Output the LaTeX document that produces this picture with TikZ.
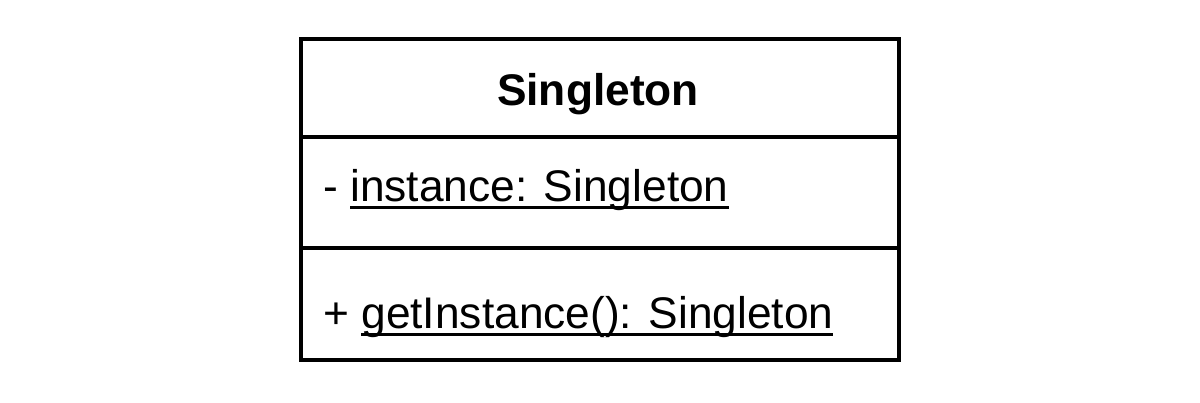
\documentclass[tikz,border=0pt]{standalone}
\usepackage{fontspec}
\setmainfont{Liberation Sans}
\newcommand{\myul}[1]{\setbox0\hbox{#1}\rlap{\rule[-7.8pt]{\wd0}{2.8pt}}\box0}
\begin{document}
\begin{tikzpicture}[x=1pt,y=-1pt,
  compart/.style={draw=black, line width=3.3pt, rectangle, minimum width=598pt, inner sep=0pt},
  txt/.style={inner sep=0pt, font=\fontsize{44.3pt}{50pt}\selectfont}]
\useasboundingbox[fill=white] (0,0) rectangle (1200,402);
\node[compart, minimum height=98pt] (title) at (600,88) {};
\node[compart, minimum height=111pt] (attrs) at (600,192.5) {};
\node[compart, minimum height=112pt] (ops) at (600,304) {};
\node[txt, anchor=base, font=\fontsize{44.3pt}{50pt}\selectfont\bfseries] (tname) at (598,105) {Singleton};
\node[txt, anchor=base west] (attr) at (323,201) {- \myul{instance: Singleton}};
\node[txt, anchor=base west] (op) at (323,328) {+ \myul{getInstance(): Singleton}};
\end{tikzpicture}
\end{document}
